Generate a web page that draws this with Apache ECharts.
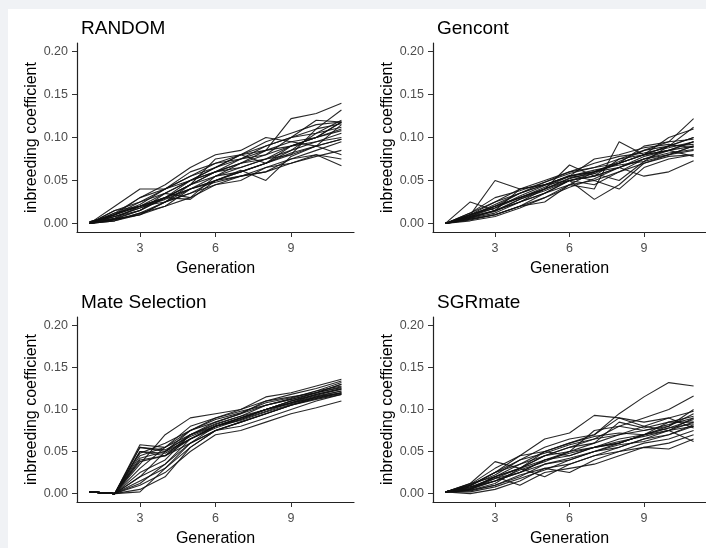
<!DOCTYPE html>
<html>
<head>
<meta charset="utf-8">
<script src="https://cdn.jsdelivr.net/npm/echarts@6/dist/echarts.min.js"></script>
<style>
html,body{margin:0;padding:0;background:#f0f2f5;}
#c{width:706px;height:548px;}
</style>
</head>
<body>
<div id="c"></div>
<script>
// Generations (x values)
var generations = [1,2,3,4,5,6,7,8,9,10,11];
var xTicks = [3,6,9];
var yTicks = [0,0.05,0.10,0.15,0.20];
var panelTitles = ["RANDOM","Gencont","Mate Selection","SGRmate"];

// RANDOM replicates
var randomLines = [
[0,0.005,0.015,0.03,0.045,0.06,0.07,0.085,0.122,0.128,0.14],
[0,0.01,0.02,0.035,0.05,0.065,0.075,0.09,0.1,0.11,0.132],
[0,0.02,0.04,0.04,0.055,0.065,0.08,0.085,0.095,0.1,0.118],
[0.002,0.008,0.018,0.03,0.04,0.055,0.065,0.075,0.09,0.1,0.118],
[0,0.005,0.01,0.025,0.035,0.05,0.06,0.07,0.08,0.09,0.115],
[0,0.015,0.025,0.04,0.06,0.07,0.08,0.095,0.105,0.115,0.118],
[0.002,0.01,0.02,0.03,0.045,0.055,0.06,0.07,0.085,0.095,0.105],
[0,0.003,0.012,0.025,0.035,0.045,0.055,0.065,0.075,0.085,0.095],
[0,0.012,0.03,0.045,0.065,0.08,0.085,0.1,0.095,0.09,0.08],
[0,0.008,0.018,0.028,0.04,0.048,0.055,0.06,0.07,0.078,0.085],
[0,0.01,0.025,0.035,0.05,0.06,0.07,0.08,0.09,0.1,0.11],
[0.002,0.006,0.015,0.035,0.03,0.055,0.07,0.075,0.085,0.105,0.112],
[0,0.003,0.01,0.02,0.04,0.05,0.06,0.07,0.082,0.09,0.098],
[0,0.012,0.02,0.03,0.045,0.075,0.08,0.07,0.09,0.095,0.1],
[0,0.004,0.012,0.02,0.03,0.045,0.05,0.065,0.07,0.08,0.075],
[0.002,0.01,0.022,0.04,0.05,0.065,0.08,0.09,0.1,0.105,0.12],
[0,0.008,0.015,0.03,0.028,0.05,0.055,0.06,0.075,0.08,0.067],
[0,0.015,0.02,0.03,0.05,0.06,0.065,0.075,0.08,0.11,0.116],
[0,0.005,0.01,0.025,0.045,0.06,0.075,0.085,0.09,0.1,0.108],
[0,0.01,0.03,0.04,0.055,0.07,0.075,0.08,0.1,0.12,0.118],
[0,0.006,0.02,0.025,0.04,0.05,0.062,0.05,0.078,0.09,0.098]
];

// Gencont replicates
var gencontLines = [
[0,0.025,0.015,0.04,0.045,0.055,0.06,0.07,0.08,0.09,0.1],
[0,0.01,0.05,0.04,0.045,0.05,0.055,0.065,0.075,0.085,0.095],
[0,0.005,0.01,0.02,0.025,0.045,0.04,0.095,0.08,0.1,0.11],
[0,0.008,0.015,0.025,0.035,0.05,0.028,0.045,0.07,0.08,0.09],
[0,0.01,0.02,0.03,0.04,0.068,0.055,0.075,0.085,0.095,0.122],
[0,0.006,0.012,0.025,0.035,0.045,0.06,0.065,0.055,0.06,0.073],
[0,0.008,0.018,0.03,0.04,0.05,0.055,0.065,0.075,0.08,0.085],
[0,0.01,0.02,0.035,0.045,0.055,0.06,0.07,0.08,0.085,0.09],
[0,0.012,0.025,0.04,0.05,0.06,0.065,0.07,0.09,0.095,0.098],
[0,0.005,0.01,0.02,0.03,0.045,0.05,0.04,0.065,0.075,0.08],
[0,0.007,0.015,0.028,0.038,0.05,0.058,0.07,0.08,0.09,0.1],
[0,0.009,0.022,0.035,0.045,0.055,0.075,0.08,0.088,0.092,0.088],
[0,0.004,0.01,0.02,0.035,0.05,0.045,0.06,0.07,0.078,0.08],
[0,0.012,0.03,0.038,0.048,0.058,0.065,0.075,0.08,0.085,0.095],
[0,0.008,0.02,0.03,0.042,0.055,0.062,0.068,0.072,0.09,0.112],
[0,0.006,0.015,0.025,0.04,0.052,0.06,0.072,0.085,0.09,0.092],
[0,0.01,0.018,0.032,0.044,0.056,0.05,0.06,0.075,0.082,0.086],
[0,0.003,0.008,0.018,0.03,0.042,0.052,0.065,0.078,0.085,0.078],
[0,0.01,0.025,0.035,0.048,0.06,0.07,0.078,0.082,0.088,0.095],
[0,0.007,0.014,0.028,0.04,0.053,0.058,0.05,0.072,0.08,0.09]
];

// Mate Selection replicates
var mateLines = [
[0.002,0,0.058,0.055,0.075,0.09,0.1,0.115,0.12,0.128,0.136],
[0.002,0,0.055,0.05,0.07,0.085,0.095,0.11,0.118,0.125,0.134],
[0.002,0,0.05,0.048,0.065,0.08,0.09,0.1,0.11,0.12,0.13],
[0.002,0,0.045,0.055,0.07,0.082,0.092,0.105,0.113,0.122,0.128],
[0.002,0,0.04,0.045,0.065,0.078,0.088,0.1,0.108,0.118,0.125],
[0.002,0,0.035,0.07,0.09,0.095,0.1,0.11,0.115,0.12,0.13],
[0.002,0,0.03,0.055,0.08,0.09,0.098,0.105,0.112,0.12,0.126],
[0.002,0,0.025,0.04,0.07,0.08,0.09,0.1,0.108,0.116,0.122],
[0.002,0,0.02,0.035,0.06,0.075,0.085,0.095,0.105,0.113,0.12],
[0.002,0,0.015,0.03,0.055,0.075,0.08,0.09,0.1,0.11,0.118],
[0.002,0,0.01,0.025,0.05,0.07,0.075,0.085,0.095,0.102,0.11],
[0.002,0,0.005,0.02,0.055,0.075,0.085,0.095,0.105,0.115,0.12],
[0.002,0,0.002,0.03,0.06,0.08,0.09,0.1,0.11,0.118,0.124],
[0.002,0,0.05,0.045,0.06,0.075,0.085,0.095,0.105,0.112,0.118],
[0.002,0,0.055,0.052,0.068,0.08,0.09,0.1,0.11,0.117,0.124],
[0.002,0,0.042,0.05,0.065,0.08,0.088,0.098,0.108,0.114,0.12],
[0.002,0,0.048,0.06,0.075,0.085,0.095,0.105,0.112,0.12,0.127],
[0.002,0,0.038,0.045,0.07,0.083,0.092,0.1,0.107,0.115,0.122],
[0.002,0,0.02,0.05,0.075,0.088,0.096,0.108,0.114,0.122,0.132],
[0.002,0,0.012,0.035,0.065,0.08,0.087,0.097,0.106,0.113,0.119]
];

// SGRmate replicates
var sgrLines = [
[0.002,0.01,0.025,0.045,0.065,0.072,0.093,0.09,0.08,0.075,0.09],
[0.002,0.005,0.02,0.035,0.05,0.06,0.07,0.095,0.115,0.132,0.128],
[0.002,0.012,0.038,0.03,0.045,0.055,0.065,0.08,0.09,0.1,0.116],
[0.002,0.008,0.015,0.025,0.04,0.045,0.055,0.06,0.07,0.08,0.1],
[0.002,0.004,0.01,0.02,0.035,0.04,0.05,0.055,0.065,0.075,0.085],
[0.002,0,0.005,0.015,0.03,0.035,0.045,0.05,0.06,0.065,0.075],
[0.002,0.006,0.02,0.01,0.025,0.03,0.035,0.045,0.055,0.06,0.07],
[0.002,0.01,0.025,0.035,0.045,0.05,0.075,0.08,0.075,0.08,0.095],
[0.002,0.003,0.01,0.022,0.03,0.025,0.04,0.05,0.055,0.053,0.065],
[0.002,0.008,0.018,0.03,0.04,0.048,0.055,0.065,0.07,0.078,0.088],
[0.002,0.005,0.015,0.025,0.04,0.05,0.06,0.07,0.075,0.082,0.09],
[0.002,0.012,0.02,0.03,0.045,0.055,0.06,0.085,0.078,0.085,0.092],
[0.002,0.004,0.012,0.03,0.02,0.035,0.045,0.055,0.065,0.07,0.08],
[0.002,0.007,0.02,0.03,0.05,0.045,0.055,0.06,0.07,0.085,0.085],
[0.002,0.01,0.022,0.04,0.048,0.058,0.065,0.07,0.08,0.09,0.078],
[0.002,0.002,0.008,0.018,0.028,0.04,0.05,0.058,0.062,0.07,0.082],
[0.002,0.006,0.015,0.028,0.038,0.05,0.055,0.062,0.068,0.075,0.062],
[0.002,0.009,0.025,0.04,0.055,0.065,0.07,0.09,0.085,0.09,0.098],
[0.002,0.005,0.018,0.025,0.035,0.042,0.05,0.06,0.07,0.078,0.083],
[0.002,0.011,0.03,0.045,0.05,0.06,0.068,0.072,0.07,0.075,0.08]
];

var panels = [randomLines, gencontLines, mateLines, sgrLines];
var FONT = "'Liberation Sans', Arial, sans-serif";
var gridPos = [
  {left:77, top:43, width:277, height:189},
  {left:433, top:43, width:277, height:189},
  {left:77, top:317, width:277, height:189},
  {left:433, top:317, width:277, height:189}
];
var titleTop = [14, 14, 288, 288];

var grids=[], xAxes=[], yAxes=[], titles=[], series=[];
for (var p=0; p<4; p++) {
  grids.push(Object.assign({containLabel:false}, gridPos[p]));
  titles.push({
    text: panelTitles[p], left: gridPos[p].left - 1, top: titleTop[p],
    textStyle:{fontFamily:FONT, fontSize:19, fontWeight:'normal', color:'#000'}
  });
  xAxes.push({
    gridIndex:p, type:'value', min:0.5, max:11.5,
    name:'Generation', nameLocation:'middle', nameGap:29,
    nameTextStyle:{fontFamily:FONT, fontSize:16, color:'#000'},
    axisLine:{show:true, onZero:false, lineStyle:{color:'#222', width:1.2}},
    axisTick:{show:true, length:5, lineStyle:{color:'#333', width:1}, customValues:xTicks},
    axisLabel:{fontFamily:FONT, fontSize:12.5, color:'#4d4d4d', margin:10, customValues:xTicks},
    splitLine:{show:false}
  });
  yAxes.push({
    gridIndex:p, type:'value', min:-0.01, max:0.21,
    name:'inbreeding coefficient', nameLocation:'middle', nameGap:37,
    nameTextStyle:{fontFamily:FONT, fontSize:16, color:'#000'},
    axisLine:{show:true, onZero:false, lineStyle:{color:'#222', width:1.2}},
    axisTick:{show:true, length:5, lineStyle:{color:'#333', width:1}, customValues:yTicks},
    axisLabel:{fontFamily:FONT, fontSize:12.5, color:'#4d4d4d', margin:9, customValues:yTicks,
      formatter:function(v){return v.toFixed(2);}},
    splitLine:{show:false}
  });
  panels[p].forEach(function(vals){
    series.push({
      type:'line', xAxisIndex:p, yAxisIndex:p, symbol:'none', silent:true,
      lineStyle:{color:'#111', width:1.1, opacity:0.9},
      data: generations.map(function(g,i){return [g, vals[i]];})
    });
  });
}

var chart = echarts.init(document.getElementById('c'), null, {renderer:'canvas'});
chart.setOption({
  animation:false,
  backgroundColor:'#f0f2f5',
  graphic:[{type:'rect', shape:{x:8, y:9, width:698, height:539}, style:{fill:'#ffffff'}, z:-10, silent:true}],
  title: titles,
  grid: grids,
  xAxis: xAxes,
  yAxis: yAxes,
  series: series
});
</script>
</body>
</html>
